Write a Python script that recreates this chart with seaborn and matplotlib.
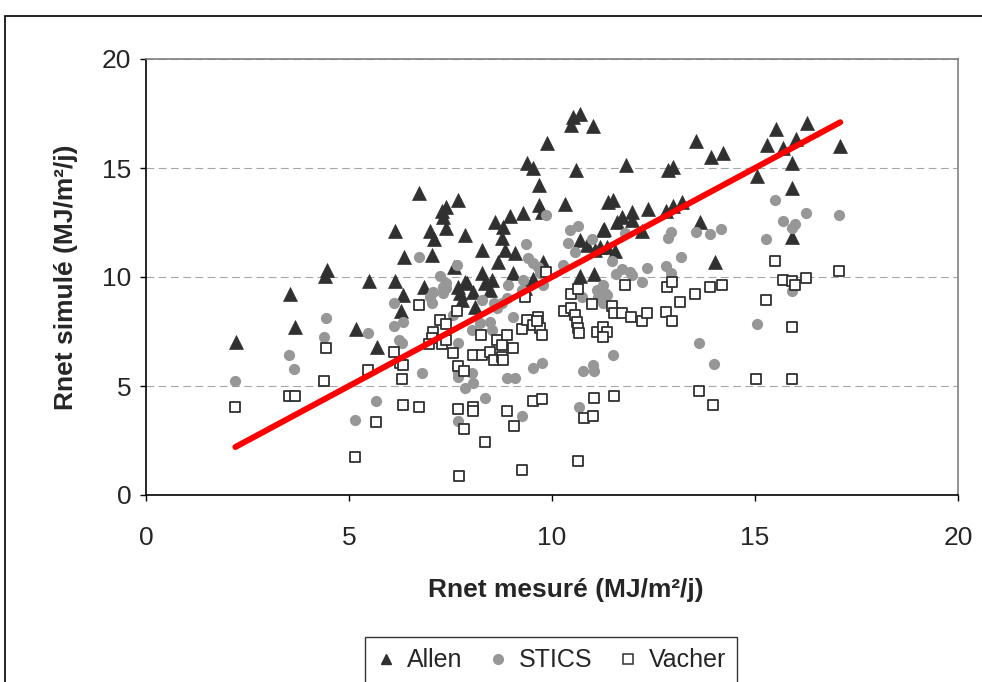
import matplotlib
matplotlib.use("Agg")
import matplotlib.pyplot as plt
import seaborn as sns
import pandas as pd
from matplotlib.patches import Rectangle
from matplotlib.lines import Line2D

# ---------------- data ----------------
allen_x = [2.22, 3.54, 3.68, 4.45, 4.41, 5.18, 5.49, 5.68, 6.13, 6.13, 6.36, 6.34, 6.28, 6.73,
           7.68, 7.28, 7.40, 7.32, 7.40, 6.99, 7.09, 7.86, 7.04, 7.59, 6.85, 7.69, 7.73, 7.78,
           7.86, 8.27, 8.60, 8.80, 8.97, 8.76, 8.84, 9.09, 8.68, 9.28, 9.38, 9.52, 9.69, 9.69,
           9.75, 9.87, 10.32, 10.59, 10.51, 10.69, 10.46, 11.00, 10.69, 10.85, 11.06, 10.69,
           11.03, 8.10, 8.05, 8.27, 8.35, 8.47, 8.51, 9.05, 9.33, 9.54, 9.79, 7.90, 11.26,
           11.39, 11.35, 11.18, 11.55, 13.55, 13.92, 14.20, 11.82, 12.86, 12.97, 15.04, 11.51,
           12.37, 12.82, 12.99, 13.19, 11.96, 11.96, 11.72, 11.59, 11.28, 12.21, 13.65, 14.01,
           15.29, 15.52, 16.27, 15.68, 16.01, 15.92, 15.92, 15.92, 17.09]
allen_y = [7.02, 9.22, 7.72, 10.32, 10.05, 7.60, 9.83, 6.77, 12.10, 9.83, 10.93, 9.17, 8.46, 13.86,
           13.53, 13.04, 13.22, 12.74, 12.23, 12.10, 11.73, 11.93, 11.00, 10.47, 9.56, 9.56, 9.25, 8.94,
           9.79, 11.24, 12.54, 12.31, 12.80, 11.78, 11.24, 11.12, 10.70, 12.95, 15.21, 14.98, 14.22, 13.30,
           13.00, 16.16, 13.35, 14.91, 17.35, 17.50, 16.97, 16.93, 11.70, 11.47, 11.24, 10.05,
           10.14, 8.64, 9.33, 10.17, 9.71, 9.40, 9.86, 10.17, 9.48, 9.89, 10.70, 9.71, 12.16,
           13.46, 11.39, 11.39, 11.19, 16.25, 15.49, 15.67, 15.14, 14.91, 15.06, 14.63, 13.53,
           13.10, 13.04, 13.26, 13.45, 13.00, 12.61, 12.77, 12.54, 12.19, 12.11, 12.54, 10.70,
           16.06, 16.77, 17.05, 15.90, 16.32, 15.24, 14.07, 11.82, 16.01]

stics_x = [2.20, 3.51, 3.65, 4.43, 4.38, 5.47, 5.66, 5.16, 6.12, 6.12, 6.34, 6.24, 6.31, 6.73, 6.80,
           7.65, 7.24, 7.36, 7.40, 7.08, 7.00, 7.32, 7.40, 7.04, 7.32, 7.57, 7.69, 8.02, 8.23, 8.27,
           8.47, 8.51, 8.56, 8.64, 8.76, 8.88, 8.92, 9.05, 9.29, 9.25, 9.35, 9.42, 9.54, 9.66, 9.70,
           9.79, 9.84, 10.28, 10.44, 10.65, 10.40, 10.57, 10.98, 11.14, 11.10, 10.73, 7.69, 8.02,
           8.06, 7.86, 8.35, 7.69, 9.25, 8.88, 9.09, 9.52, 9.75, 10.77, 11.02, 11.03, 10.67, 11.26,
           11.35, 11.80, 12.93, 12.85, 13.54, 13.89, 14.16, 11.47, 11.58, 11.72, 11.92, 11.96,
           12.21, 12.35, 12.81, 12.93, 13.17, 11.26, 11.30, 15.49, 15.26, 15.04, 13.63, 14.00,
           11.51, 15.68, 15.90, 15.99, 16.26, 17.08, 15.90, 7.69]
stics_y = [5.23, 6.40, 5.80, 8.10, 7.25, 7.42, 4.30, 3.44, 8.79, 7.75, 7.94, 7.11, 6.99, 10.90, 5.58,
           10.55, 10.05, 9.63, 9.48, 9.33, 9.10, 9.56, 9.71, 8.79, 9.25, 8.26, 6.96, 7.57, 7.88, 8.94,
           7.95, 7.57, 8.79, 8.56, 8.79, 9.02, 9.63, 8.18, 9.86, 9.40, 11.50, 10.86, 10.63, 10.47, 10.17,
           9.63, 12.84, 10.55, 12.16, 12.34, 11.55, 11.16, 11.73, 9.10, 9.40, 9.10, 5.58, 5.58,
           5.12, 4.90, 4.46, 3.39, 3.62, 5.38, 5.38, 5.81, 6.04, 5.70, 5.96, 5.70, 4.05, 8.79,
           9.17, 12.00, 12.08, 11.78, 12.08, 11.97, 12.19, 10.75, 10.14, 10.35, 10.24, 10.09,
           9.79, 10.40, 10.50, 10.17, 10.90, 9.63, 9.25, 13.53, 11.73, 7.84, 6.99, 5.99,
           6.42, 12.58, 12.23, 12.43, 12.92, 12.84, 9.37, 5.43]

vacher_x = [2.20, 3.51, 3.67, 4.38, 4.43, 5.47, 5.66, 5.16, 6.12, 6.26, 6.34, 6.30, 6.34, 6.73, 6.73,
            7.65, 7.24, 7.39, 7.08, 7.04, 6.98, 7.30, 7.39, 7.57, 7.69, 7.84, 7.69, 8.06, 8.05, 7.84,
            7.71, 8.35, 8.88, 9.07, 9.25, 9.52, 9.75, 10.65, 10.79, 11.02, 11.03, 8.25, 8.06, 8.27,
            8.47, 8.56, 8.76, 8.80, 8.64, 8.76, 8.88, 9.03, 9.25, 9.38, 9.54, 9.66, 9.70, 9.75, 9.62,
            9.33, 9.84, 10.30, 10.48, 10.57, 10.61, 10.63, 10.67, 10.48, 10.65, 10.98, 11.10, 11.25,
            11.35, 11.25, 11.49, 11.53, 11.72, 11.80, 11.94, 12.21, 12.35, 12.81, 12.95, 12.84,
            12.95, 13.15, 13.52, 13.89, 14.18, 15.49, 15.26, 15.02, 13.63, 13.97, 11.53, 15.68,
            15.90, 15.99, 16.26, 17.08, 15.90, 15.90]
vacher_y = [4.02, 4.54, 4.54, 5.23, 6.76, 5.73, 3.36, 1.76, 6.57, 6.07, 5.96, 5.31, 4.13, 8.72, 4.02,
            8.44, 8.03, 7.84, 7.49, 7.19, 6.93, 6.93, 7.11, 6.50, 5.92, 5.70, 3.93, 4.05, 3.87, 3.01,
            0.89, 2.42, 3.87, 3.17, 1.15, 4.31, 4.39, 1.57, 3.52, 3.62, 4.46, 7.34, 6.42, 6.42,
            6.57, 6.19, 6.34, 6.19, 7.11, 6.88, 7.34, 6.73, 7.60, 8.03, 7.80, 8.18, 7.67, 7.34, 8.00,
            9.10, 10.24, 8.44, 8.56, 8.26, 7.95, 7.65, 7.42, 9.21, 9.44, 8.76, 7.49, 7.72,
            7.49, 7.26, 8.67, 8.33, 8.33, 9.63, 8.18, 8.00, 8.33, 8.41, 8.00, 9.53,
            9.79, 8.87, 9.21, 9.53, 9.63, 10.73, 8.94, 5.31, 4.79, 4.13, 4.54, 9.86,
            9.83, 9.63, 9.94, 10.29, 7.69, 5.31]

line_x = [2.2, 17.1]
line_y = [2.2, 17.1]

series_names = ["Allen", "STICS", "Vacher"]
x_ticks = [0, 5, 10, 15, 20]
y_ticks = [0, 5, 10, 15, 20]
x_label = "Rnet mesuré (MJ/m²/j)"
y_label = "Rnet simulé (MJ/m²/j)"

# ---------------- plot ----------------
sns.set_style("white")
plt.rcParams["font.family"] = ["Liberation Sans", "DejaVu Sans"]

fig = plt.figure(figsize=(9.82, 6.82), dpi=100)
ax = fig.add_axes([146 / 982, 1 - 495 / 682, 812 / 982, 436 / 682])

dark = "#303030"
grey = "#979797"

ax.yaxis.grid(True, linestyle=(0, (7, 4)), color="#a6a6a6", linewidth=0.8)
ax.set_axisbelow(True)

df_a = pd.DataFrame({"x": allen_x, "y": allen_y})
df_s = pd.DataFrame({"x": stics_x, "y": stics_y})
df_v = pd.DataFrame({"x": vacher_x, "y": vacher_y})

sns.scatterplot(data=df_a, x="x", y="y", marker="^", s=100, color=dark,
                edgecolor=dark, linewidth=0.5, ax=ax, zorder=3)
sns.scatterplot(data=df_s, x="x", y="y", marker="o", s=65, color=grey,
                edgecolor=grey, linewidth=0, ax=ax, zorder=3)
sns.scatterplot(data=df_v, x="x", y="y", marker="s", s=46, color="white",
                edgecolor=dark, linewidth=1.3, ax=ax, zorder=3)
sns.lineplot(x=line_x, y=line_y, color="#ff0000", linewidth=4.3, ax=ax, zorder=4,
             solid_capstyle="round")

ax.set_xlim(0, 20)
ax.set_ylim(0, 20)
ax.set_xticks(x_ticks)
ax.set_yticks(y_ticks)
ax.set_xticklabels([str(t) for t in x_ticks])
ax.set_yticklabels([str(t) for t in y_ticks])
ax.tick_params(axis="both", direction="out", length=4.5, width=1, color="black",
               labelsize=19, bottom=True, left=True)
ax.tick_params(axis="x", pad=18)
ax.tick_params(axis="y", pad=6)

for side in ["left", "bottom"]:
    ax.spines[side].set_color("black")
    ax.spines[side].set_linewidth(1.2)
for side in ["top", "right"]:
    ax.spines[side].set_color("#808080")
    ax.spines[side].set_linewidth(1.2)

ax.set_xlabel(x_label, fontsize=19, fontweight="bold", labelpad=20)
ax.set_ylabel(y_label, fontsize=19, fontweight="bold", labelpad=17)
ax.xaxis.label.set_x((566 - 146) / 812)

# legend
handles = [
    Line2D([], [], linestyle="none", marker="^", markersize=7, color=dark),
    Line2D([], [], linestyle="none", marker="o", markersize=7, color=grey),
    Line2D([], [], linestyle="none", marker="s", markersize=6.5, markerfacecolor="white",
           markeredgecolor=dark, markeredgewidth=1.1),
]
leg = fig.legend(handles, series_names, loc="upper center", ncol=3,
                 bbox_to_anchor=(551 / 982, 1 - 637 / 682), fontsize=18,
                 frameon=True, fancybox=False, edgecolor="black", handlelength=0.8,
                 handletextpad=0.45, columnspacing=1.0, borderpad=0.45, borderaxespad=0)
leg.get_frame().set_linewidth(1.0)

# outer chart border
fig.patches.append(Rectangle((5 / 982, -0.2), 1.2, 1 - 16 / 682 + 0.2,
                             transform=fig.transFigure, fill=False,
                             edgecolor="black", linewidth=1.2, clip_on=False))

fig.savefig("out.png", dpi=100)
